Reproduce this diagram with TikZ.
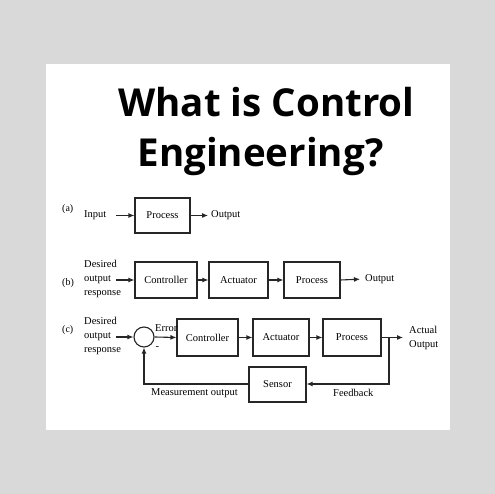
\documentclass[tikz,border=0pt]{standalone}
\usepackage{fontspec}
\setmainfont{Liberation Serif}
\newfontfamily\titlefont{Open Sans}
\usetikzlibrary{arrows.meta}
\definecolor{bggray}{HTML}{D9D9D9}
\begin{document}
\begin{tikzpicture}[x=1pt,y=1pt,
  blk/.style={draw=black!85, line width=1.1pt, minimum height=35pt, inner sep=0pt, font=\fontsize{10.5}{12}\selectfont},
  lbl/.style={inner sep=0pt, font=\fontsize{10.5}{14}\selectfont},
  tag/.style={inner sep=0pt, font=\fontsize{10}{12}\selectfont},
  conn/.style={draw=black!85, line width=1.1pt, -{Latex[length=6pt,width=5pt]}},
  ttl/.style={inner sep=0pt, anchor=base, font=\titlefont\bfseries\fontsize{38.5}{46}\selectfont}]
\useasboundingbox (0,0) rectangle (495,494);
\fill[bggray] (0,0) rectangle (495,494);
\fill[white] (46,64) rectangle (450,430);

% title
\node[ttl] (t1) at (266.5,377) {What is Control};
\node[ttl] (t2) at (260.5,327) {Engineering?};

% (a)
\node[tag, anchor=west] (ta) at (62,285) {(a)};
\node[lbl, anchor=west] (ain) at (84,279) {Input};
\coordinate (ains) at (116,278.5);
\node[blk, minimum width=55pt] (ap) at (162.5,278.5) {Process};
\node[lbl, anchor=west] (aout) at (211,278.5) {Output};
\draw[conn] (ains) -- (ap.west);
\draw[conn, shorten >=3pt] (ap.east) -- (aout.west);

% (b)
\node[tag, anchor=west] (tb) at (62,211) {(b)};
\node[lbl, anchor=west, align=left] (bin) at (84,215) {Desired\\output\\response};
\coordinate (bins) at (116,214);
\node[blk, minimum width=62pt, minimum height=36pt] (bc) at (166,214) {Controller};
\node[blk, minimum width=59pt, minimum height=36pt] (ba) at (238.5,214) {Actuator};
\node[blk, minimum width=56pt, minimum height=36pt] (bp) at (312,214) {Process};
\node[lbl, anchor=west] (bout) at (365,215) {Output};
\draw[conn] (bins) -- (bc.west);
\draw[conn] (bc.east) -- (ba.west);
\draw[conn] (ba.east) -- (bp.west);
\draw[conn, shorten >=5pt] (bp.east) -- (bout.west);

% (c)
\node[tag, anchor=west] (tc) at (62,164) {(c)};
\node[lbl, anchor=west, align=left] (cin) at (84,158) {Desired\\output\\response};
\coordinate (cins) at (116,157);
\node[draw=black!85, line width=1.1pt, circle, minimum size=20pt, inner sep=0pt] (sum) at (144,157) {};
\node[blk, minimum width=61pt, minimum height=37pt] (cc) at (207.5,156.5) {Controller};
\node[blk, minimum width=56pt, minimum height=37pt] (ca) at (281,156.5) {Actuator};
\node[blk, minimum width=58pt, minimum height=37pt] (cp) at (352,156.5) {Process};
\node[blk, minimum width=57pt] (cs) at (277.5,109.5) {Sensor};
\node[lbl, anchor=west, align=left] (cout) at (409,156.5) {Actual\\Output};
\node[lbl, anchor=west] (err) at (155,166) {Error};
\node[lbl, anchor=west] (minus) at (155.5,146) {-};
\node[lbl, anchor=west] (meas) at (151,101) {Measurement output};
\node[lbl, anchor=west] (fb) at (333,101) {Feedback};
\coordinate (branch) at (389,156.5);
\coordinate (fbcorner) at (389,110);
\coordinate (mcorner) at (144,110);
\draw[conn] (cins) -- (sum.west);
\draw[conn] (sum.east) -- (cc.west);
\draw[conn] (cc.east) -- (ca.west);
\draw[conn] (ca.east) -- (cp.west);
\draw[conn, shorten >=6pt] (cp.east) -- (cout.west);
\draw[conn] (branch) -- (fbcorner) -- (cs.east |- fbcorner);
\draw[conn] (cs.west |- mcorner) -- (mcorner) -- (sum.south);
\end{tikzpicture}
\end{document}
